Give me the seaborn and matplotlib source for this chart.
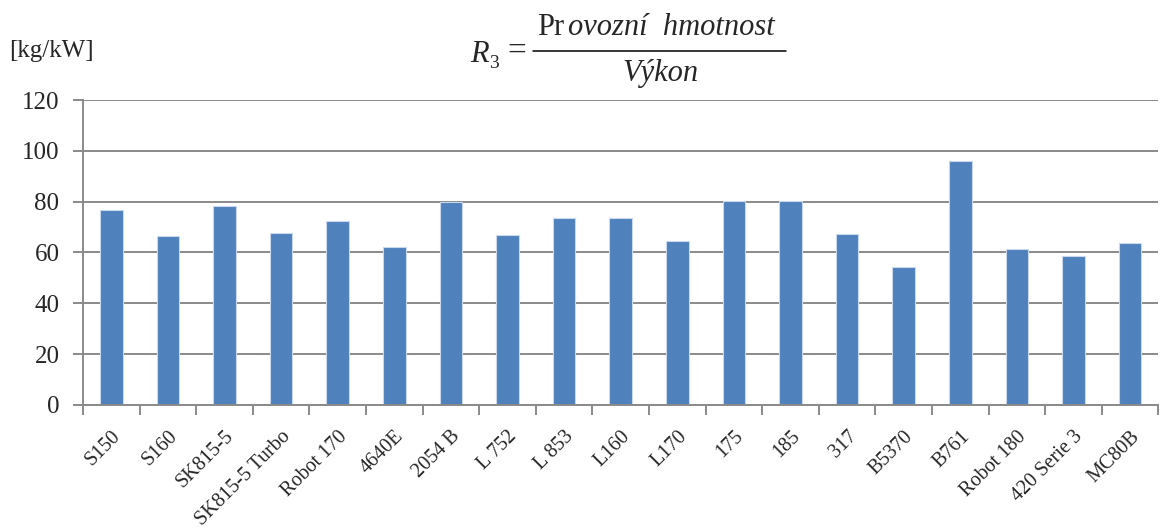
import matplotlib
matplotlib.use("Agg")
import matplotlib.pyplot as plt
from matplotlib.lines import Line2D
import seaborn as sns
import pandas as pd
import numpy as np

# data
modely = ["S150", "S160", "SK815-5", "SK815-5 Turbo", "Robot 170", "4640E",
          "2054 B", "L 752", "L 853", "L160", "L170", "175", "185", "317",
          "B5370", "B761", "Robot 180", "420 Serie 3", "MC80B"]
r3 = [76.7, 66.3, 78.3, 67.6, 72.4, 62.0, 79.9, 66.7, 73.5, 73.7, 64.6,
      80.4, 80.4, 67.2, 54.4, 95.8, 61.2, 58.7, 63.6]
y_ticks = [0, 20, 40, 60, 80, 100, 120]

df = pd.DataFrame({"model": modely, "r3": r3})

sns.set_style("white")
plt.rcParams["font.family"] = ["Liberation Serif", "DejaVu Serif"]

fig = plt.figure(figsize=(11.6, 5.32), dpi=100)
ax = fig.add_axes([0.0716, 0.239, 0.927, 0.573])

sns.barplot(data=df, x="model", y="r3", color="#4F81BD", saturation=1,
            width=0.4, edgecolor="#c9d8ec", linewidth=0.8, ax=ax)

ax.set_ylim(0, 120)
ax.set_xlim(-0.5, len(modely) - 0.5)
ax.set_yticks(y_ticks)
ax.yaxis.grid(True, color="#8a8a8a", linewidth=1.4)
ax.set_axisbelow(True)
ax.set_xlabel("")
ax.set_ylabel("")

for s in ["top", "right"]:
    ax.spines[s].set_visible(False)
for s in ["left", "bottom"]:
    ax.spines[s].set_color("#8a8a8a")
    ax.spines[s].set_linewidth(1.4)

ax.tick_params(axis="y", labelsize=18, length=7, width=1.4, color="#8a8a8a",
               direction="out", left=True, pad=10)
ax.set_xticks(np.arange(len(modely)))
ax.set_xticklabels(modely, rotation=45, ha="right", rotation_mode="anchor")
ax.tick_params(axis="x", which="major", length=0, labelsize=14.5, pad=16)
ax.set_xticks(np.arange(len(modely) + 1) - 0.5, minor=True)
ax.tick_params(axis="x", which="minor", length=7, width=1.4,
               color="#8a8a8a", direction="out", bottom=True)

fig.text(0.008, 0.905, "[kg/kW]", fontsize=18, ha="left", va="center")

# title formula: R3 = Provozní hmotnost / Výkon
fig.text(0.405, 0.8835, "R", fontsize=22, style="italic", ha="left", va="baseline")
fig.text(0.4215, 0.872, "3", fontsize=14, ha="left", va="baseline")
fig.text(0.437, 0.887, "=", fontsize=24, ha="left", va="baseline")
fig.text(0.463, 0.934, "Pr", fontsize=22, ha="left", va="baseline")
fig.text(0.4895, 0.934, "ovozní  hmotnost", fontsize=22, style="italic",
         ha="left", va="baseline")
fig.lines.append(Line2D([0.4595, 0.678], [0.905, 0.905], transform=fig.transFigure,
                        color="black", linewidth=1.1))
fig.text(0.569, 0.848, "Výkon", fontsize=22, style="italic", ha="center", va="baseline")

fig.savefig("out.png", dpi=100)
